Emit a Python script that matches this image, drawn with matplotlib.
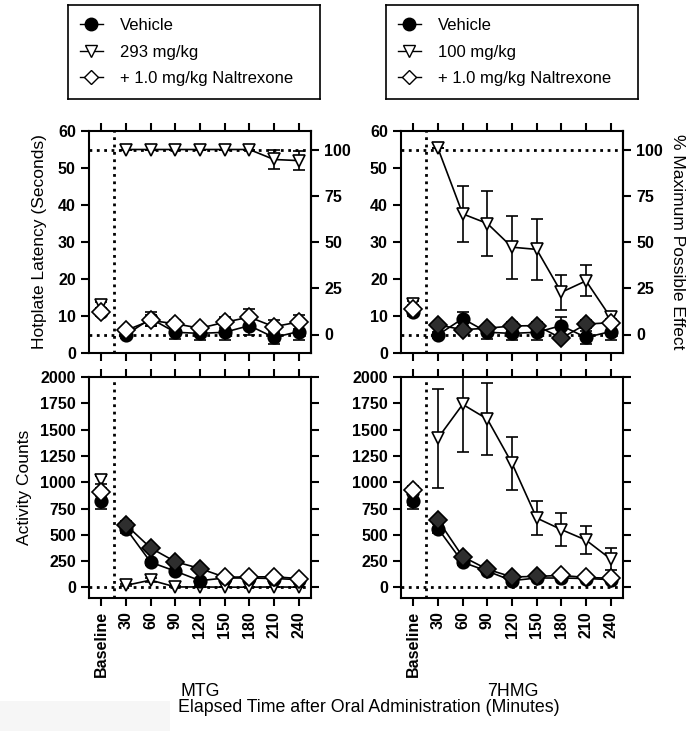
import matplotlib.pyplot as plt
from matplotlib.lines import Line2D
from matplotlib.patches import Rectangle

plt.rcParams['font.family'] = ['Liberation Sans', 'DejaVu Sans']

# x categories (Baseline + minutes after dosing)
time_labels = ['Baseline', '30', '60', '90', '120', '150', '180', '210', '240']

# hotplate latency (s)
veh_hp = [11.0, 4.9, 9.3, 5.6, 5.3, 5.6, 7.4, 4.2, 5.8]
veh_hp_err = [1.0, 0.8, 1.9, 1.8, 1.9, 2.2, 2.4, 1.8, 2.2]
mtg_hp = [12.9, 55.0, 55.0, 55.0, 55.0, 55.0, 55.0, 52.3, 52.0]
mtg_hp_err = [0.8, 0, 0, 0, 0, 0, 0, 2.5, 2.6]
mtg_nal_hp = [11.2, 6.1, 8.8, 7.9, 6.7, 8.3, 9.7, 7.1, 8.4]
mtg_nal_hp_err = [1.0, 0.8, 1.5, 1.0, 1.0, 1.5, 2.2, 1.8, 2.0]
hmg_hp = [13.3, 55.3, 37.6, 35.0, 28.6, 28.0, 16.4, 19.5, 9.6]
hmg_hp_err = [0.8, 0, 7.5, 8.7, 8.5, 8.3, 4.7, 4.2, 1.4]
hmg_nal_hp = [11.9, 7.6, 6.3, 6.7, 7.3, 7.4, 4.0, 7.8, 8.2]
hmg_nal_hp_err = [1.0, 0.8, 0.8, 0.8, 1.0, 1.0, 0.8, 1.0, 1.0]

# activity counts
veh_act = [820, 560, 240, 155, 65, 90, 90, 85, 75]
veh_act_err = [70, 40, 25, 20, 15, 10, 10, 10, 10]
mtg_act = [1020, 20, 70, 5, 5, 3, 3, 5, 3]
mtg_act_err = [40, 10, 20, 5, 5, 3, 3, 3, 3]
mtg_nal_act = [910, 595, 375, 245, 180, 98, 100, 102, 85]
mtg_nal_act_err = [40, 40, 25, 20, 15, 10, 10, 10, 10]
hmg_act = [830, 1420, 1740, 1600, 1180, 660, 550, 450, 270]
hmg_act_err = [50, 470, 450, 340, 250, 160, 155, 130, 105]
hmg_nal_act = [925, 640, 293, 173, 100, 105, 115, 95, 88]
hmg_nal_act_err = [40, 30, 20, 15, 10, 10, 10, 10, 10]

# naltrexone points drawn dark (1) or open (0)
mtg_nal_hp_fill = [0, 0, 0, 0, 0, 0, 0, 0, 0]
hmg_nal_hp_fill = [0, 1, 1, 1, 1, 1, 1, 1, 0]
mtg_nal_act_fill = [0, 1, 1, 1, 1, 0, 0, 0, 0]
hmg_nal_act_fill = [0, 1, 1, 1, 1, 1, 0, 0, 0]

x = list(range(len(time_labels)))
W, H = 693, 731
fig = plt.figure(figsize=(W / 100, H / 100), dpi=100)

def px_axes(l, t, r, b):
    return fig.add_axes([l / W, 1 - b / H, (r - l) / W, (b - t) / H])

ax_tl = px_axes(89, 131, 311, 353)
ax_tr = px_axes(401, 131, 623, 353)
ax_bl = px_axes(89, 377, 311, 598)
ax_br = px_axes(401, 377, 623, 598)

lw = 1.2
ms = 9
cap = 4.5

def series(ax, y, err, marker, fills=None, open_=False, z=3):
    # error bars
    ax.errorbar(x, y, yerr=err, fmt='none', ecolor='black', elinewidth=lw,
                capsize=cap, capthick=lw, zorder=z)
    # connecting line (baseline is separate)
    ax.plot(x[1:], y[1:], color='black', lw=lw, zorder=z)
    for i in range(len(x)):
        if fills is not None:
            fc = '#2e2e2e' if fills[i] else 'white'
        else:
            fc = 'white' if open_ else 'black'
        ax.plot(x[i], y[i], marker=marker, ms=ms, mfc=fc, mec='black',
                mew=lw, zorder=z + 0.1, linestyle='none')

def style(ax, bottom_labels):
    ax.set_xlim(-0.5, 8.5)
    ax.axvline(0.5, color='black', ls=':', lw=2, zorder=1)
    for s in ax.spines.values():
        s.set_linewidth(1.5)
    ax.set_xticks(x)
    ax.tick_params(axis='both', direction='out', length=6, width=1.5,
                   labelsize=11.5)
    ax.tick_params(axis='x', top=True, bottom=True)
    ax.tick_params(axis='y', right=True)
    if bottom_labels:
        ax.set_xticklabels(time_labels, rotation=90, fontweight='bold')
    else:
        ax.set_xticklabels([])
    for lab in ax.get_yticklabels():
        lab.set_fontweight('bold')

# hotplate panels
for ax, drug, drug_err, nal, nal_err, nal_fill in [
        (ax_tl, mtg_hp, mtg_hp_err, mtg_nal_hp, mtg_nal_hp_err, mtg_nal_hp_fill),
        (ax_tr, hmg_hp, hmg_hp_err, hmg_nal_hp, hmg_nal_hp_err, hmg_nal_hp_fill)]:
    ax.set_ylim(0, 60)
    ax.set_yticks(range(0, 61, 10))
    ax.axhline(5, color='black', ls=':', lw=2, zorder=1)
    ax.axhline(55, color='black', ls=':', lw=2, zorder=1)
    series(ax, drug, drug_err, 'v', open_=True, z=3)
    series(ax, veh_hp, veh_hp_err, 'o', z=4)
    series(ax, nal, nal_err, 'D', fills=nal_fill, z=5)
    style(ax, False)
    ax.tick_params(axis='y', right=False)
    sec = ax.secondary_yaxis('right', functions=(lambda v: (v - 5) * 2.0,
                                                 lambda p: p / 2.0 + 5))
    sec.set_yticks([0, 25, 50, 75, 100])
    sec.tick_params(direction='out', length=6, width=1.5, labelsize=11.5)
    sec.spines['right'].set_linewidth(1.5)
    for lab in sec.get_yticklabels():
        lab.set_fontweight('bold')
    if ax is ax_tr:
        sec.set_ylabel('% Maximum Possible Effect', fontsize=12.5,
                       rotation=270, labelpad=16)

ax_tl.set_ylabel('Hotplate Latency (Seconds)', fontsize=12.5, labelpad=8)

# activity panels
for ax, drug, drug_err, nal, nal_err, nal_fill in [
        (ax_bl, mtg_act, mtg_act_err, mtg_nal_act, mtg_nal_act_err, mtg_nal_act_fill),
        (ax_br, hmg_act, hmg_act_err, hmg_nal_act, hmg_nal_act_err, hmg_nal_act_fill)]:
    ax.set_ylim(-100, 2000)
    ax.set_yticks(range(0, 2001, 250))
    ax.axhline(0, color='black', ls=':', lw=2, zorder=1)
    series(ax, drug, drug_err, 'v', open_=True, z=3)
    series(ax, veh_act, veh_act_err, 'o', z=4)
    series(ax, nal, nal_err, 'D', fills=nal_fill, z=5)
    style(ax, True)

ax_bl.set_ylabel('Activity Counts', fontsize=12.5, labelpad=6)

# legend boxes
def legend_box(l, r, dose_label):
    lax = px_axes(l, 5, r, 99)
    lax.set_xticks([])
    lax.set_yticks([])
    for s in lax.spines.values():
        s.set_linewidth(1.2)
    handles = [
        Line2D([], [], color='black', lw=1, marker='o', ms=9, mfc='black', mec='black'),
        Line2D([], [], color='black', lw=1, marker='v', ms=9, mfc='white', mec='black'),
        Line2D([], [], color='black', lw=1, marker='D', ms=7, mfc='white', mec='black'),
    ]
    lax.legend(handles, ['Vehicle', dose_label, '+ 1.0 mg/kg Naltrexone'],
               loc='center left', frameon=False, fontsize=12, handlelength=1.4,
               handletextpad=1.0, labelspacing=0.7, borderaxespad=0.3)

legend_box(68, 320, '293 mg/kg')
legend_box(386, 638, '100 mg/kg')

# faint box at bottom left of the original image
fig.patches.append(Rectangle((0, 0), 170 / W, 30 / H, transform=fig.transFigure,
                             facecolor='#f6f6f6', edgecolor='none', zorder=0))

fig.text(200 / W, 1 - 691 / H, 'MTG', ha='center', va='center', fontsize=12.8)
fig.text(513 / W, 1 - 691 / H, '7HMG', ha='center', va='center', fontsize=12.8)
fig.text(369 / W, 1 - 707 / H, 'Elapsed Time after Oral Administration (Minutes)',
         ha='center', va='center', fontsize=12.8)

fig.savefig('out.png', dpi=100)
